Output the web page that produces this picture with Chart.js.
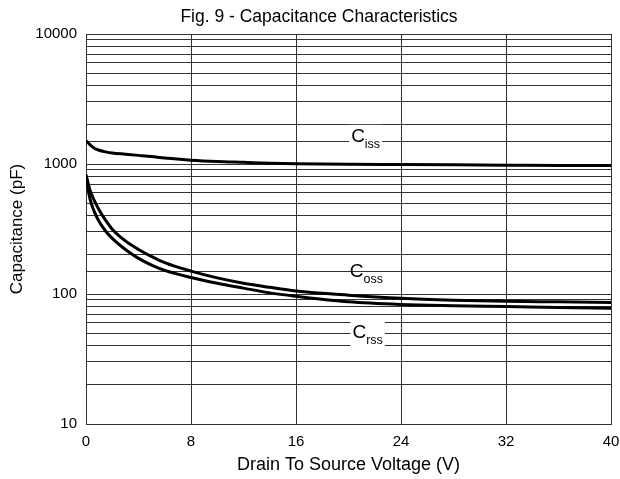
<!DOCTYPE html>
<html>
<head>
<meta charset="utf-8">
<script src="https://cdn.jsdelivr.net/npm/chart.js@4/dist/chart.umd.min.js"></script>
<style>
    html, body { margin: 0; padding: 0; background: #fff; }
    #wrap { width: 620px; height: 479px; }
</style>
</head>
<body>
<div id="wrap"><canvas id="cap-chart"></canvas></div>
<script>
// Fig. 9 - Capacitance vs drain-source voltage
const voltage = [0, 0.3, 0.6, 1, 1.5, 2, 3, 4, 5, 6, 8, 10, 12, 14, 16, 20, 24, 28, 32, 36, 40];
const ciss = [1510, 1410, 1330, 1275, 1240, 1215, 1190, 1165, 1140, 1110, 1070, 1045, 1030, 1015, 1005, 995, 990, 985, 980, 975, 972];
const coss = [830, 631, 531, 443, 368, 315, 256, 220, 194, 174, 150, 133, 121, 112.5, 105.5, 98, 92.7, 89.7, 88, 87, 86];
const crss = [790, 541, 438, 361, 304, 268, 220, 188, 167, 152, 134, 121, 111, 102, 96, 87, 83, 81.2, 80, 78.7, 77.6];

const xTicks = [0, 8, 16, 24, 32, 40];
const yTickLabels = [10, 100, 1000, 10000];

// curve labels: name, subscript, anchor (V, pF), white backing box or not
const curveLabels = [
    { main: 'C', sub: 'iss', x: 20.2, y: 1480, box: true },
    { main: 'C', sub: 'oss', x: 20.1, y: 135, box: false },
    { main: 'C', sub: 'rss', x: 20.3, y: 46, box: true }
];

const FONT = "'Liberation Sans', Arial, sans-serif";

function toPoints(ys) {
    return voltage.map((v, i) => ({ x: v, y: ys[i] }));
}

function makeSet(label, ys) {
    return {
        label: label,
        data: toPoints(ys),
        borderColor: '#000',
        borderWidth: 3,
        pointRadius: 0,
        fill: false,
        cubicInterpolationMode: 'monotone'
    };
}

const curveLabelPlugin = {
    id: 'curveLabels',
    afterDatasetsDraw(chart) {
        const ctx = chart.ctx;
        const xs = chart.scales.x;
        const ys = chart.scales.y;
        ctx.save();
        for (const lab of curveLabels) {
            const px = xs.getPixelForValue(lab.x);
            const py = ys.getPixelForValue(lab.y);
            ctx.font = '19px ' + FONT;
            const wMain = ctx.measureText(lab.main).width;
            ctx.font = '12.5px ' + FONT;
            const wSub = ctx.measureText(lab.sub).width;
            if (lab.box) {
                ctx.fillStyle = '#fff';
                ctx.fillRect(px - 2, py - 17, wMain + wSub + 4, 27);
            }
            ctx.fillStyle = '#000';
            ctx.textBaseline = 'alphabetic';
            ctx.textAlign = 'left';
            ctx.font = '19px ' + FONT;
            ctx.fillText(lab.main, px, py);
            ctx.font = '12.5px ' + FONT;
            ctx.fillText(lab.sub, px + wMain, py + 6);
        }
        ctx.restore();
    }
};

new Chart(document.getElementById('cap-chart'), {
    type: 'line',
    data: {
        datasets: [makeSet('Ciss', ciss), makeSet('Coss', coss), makeSet('Crss', crss)]
    },
    options: {
        responsive: true,
        maintainAspectRatio: false,
        animation: false,
        // left padding only nudges the centred title; the y scale width below makes up for it
        layout: { padding: { left: 27, right: 9, top: 0, bottom: 0 } },
        plugins: {
            legend: { display: false },
            tooltip: { enabled: false },
            title: {
                display: true,
                text: 'Fig. 9 - Capacitance Characteristics',
                color: '#000',
                font: { family: FONT, size: 17.5, weight: 'normal' },
                padding: { top: 7, bottom: 6 }
            }
        },
        scales: {
            x: {
                type: 'linear',
                min: 0,
                max: 40,
                afterBuildTicks: (scale) => {
                    scale.ticks = xTicks.map(v => ({ value: v }));
                },
                afterFit: (scale) => {
                    scale.height = 55;
                    // plot edge is fixed by the layout padding, not by the end labels
                    scale.paddingLeft = 0;
                    scale.paddingRight = 0;
                },
                grid: { color: '#333', lineWidth: 1, drawTicks: false },
                border: { color: '#333', width: 1 },
                ticks: {
                    color: '#000',
                    padding: 9,
                    maxRotation: 0,
                    font: { family: FONT, size: 15 }
                },
                title: {
                    display: true,
                    text: 'Drain To Source Voltage (V)',
                    color: '#000',
                    font: { family: FONT, size: 18 },
                    padding: { top: 0, bottom: 3 }
                }
            },
            y: {
                type: 'logarithmic',
                min: 10,
                max: 10000,
                afterFit: (scale) => { scale.width = 59; },
                grid: { color: '#333', lineWidth: 1, drawTicks: false },
                border: { color: '#333', width: 1 },
                ticks: {
                    color: '#000',
                    padding: 9,
                    autoSkip: false,
                    font: { family: FONT, size: 15 },
                    callback: (value) => yTickLabels.includes(value) ? String(value) : ''
                },
                title: {
                    display: true,
                    text: 'Capacitance (pF)',
                    color: '#000',
                    font: { family: FONT, size: 17 },
                    padding: { top: -20, bottom: 0 }
                }
            }
        }
    },
    plugins: [curveLabelPlugin]
});
</script>
</body>
</html>
